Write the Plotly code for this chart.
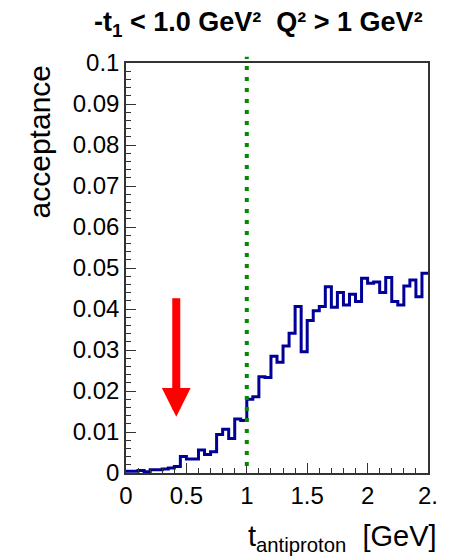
import numpy as np
import plotly.graph_objects as go

# ---- data ----
BIN_LO = 0.0
BIN_WIDTH = 0.05
acceptance = [
    0.0004, 0.0004, 0.0006, 0.0003, 0.0008, 0.0008, 0.0010, 0.0012, 0.0016, 0.0040,
    0.0034, 0.0034, 0.0056, 0.0045, 0.0052, 0.0094, 0.0107, 0.0084, 0.0132, 0.0128,
    0.0180, 0.0186, 0.0235, 0.0233, 0.0285, 0.0270, 0.0310, 0.0341, 0.0406, 0.0296,
    0.0372, 0.0396, 0.0406, 0.0454, 0.0404, 0.0440, 0.0410, 0.0436, 0.0418, 0.0475,
    0.0463, 0.0466, 0.0440, 0.0477, 0.0418, 0.0410, 0.0456, 0.0471, 0.0430, 0.0487,
]
T_CUT = 1.0
ARROW_T = 0.416
ARROW_TIP = 0.0137
ARROW_TAIL = 0.0430

X_RANGE = [0, 2.5]
Y_RANGE = [0, 0.1]
x_tickvals = [0, 0.5, 1, 1.5, 2, 2.5]
x_ticktext = ["0", "0.5", "1", "1.5", "2", "2."]
y_tickvals = [0, 0.01, 0.02, 0.03, 0.04, 0.05, 0.06, 0.07, 0.08, 0.09, 0.1]
y_ticktext = ["0", "0.01", "0.02", "0.03", "0.04", "0.05", "0.06", "0.07", "0.08", "0.09", "0.1"]

title_text = "<b>-t<sub>1</sub> &lt; 1.0 GeV²\u00a0\u00a0Q² &gt; 1 GeV²</b>"
x_title = "t<sub>antiproton</sub>\u00a0\u00a0[GeV]"
y_title = "acceptance"

# ---- build ----
n = len(acceptance)
edges = BIN_LO + BIN_WIDTH * np.arange(n + 1)
xs = list(edges[:-1]) + [edges[-1]]
ys = list(acceptance) + [acceptance[-1]]

FONT = "Liberation Sans, Arial, sans-serif"

fig = go.Figure()
fig.add_trace(go.Scatter(
    x=xs, y=ys, mode="lines", line=dict(color="#000099", width=3, shape="hv"),
    showlegend=False, hoverinfo="skip",
))

cut_paper_x = (T_CUT - X_RANGE[0]) / (X_RANGE[1] - X_RANGE[0])
fig.add_shape(type="line", xref="paper", yref="paper", x0=cut_paper_x, x1=cut_paper_x,
              y0=0.017, y1=1.015,
              line=dict(color="#008a00", width=4, dash="4px,7px"))

fig.add_annotation(x=ARROW_T, y=ARROW_TIP, ax=ARROW_T, ay=ARROW_TAIL,
                   xref="x", yref="y", axref="x", ayref="y",
                   text="", showarrow=True, arrowhead=2, arrowsize=0.72,
                   arrowwidth=8, arrowcolor="#ff0000", standoff=0)

fig.add_annotation(text=title_text, xref="paper", yref="paper",
                   x=0.44, y=1.095, xanchor="center", yanchor="middle",
                   showarrow=False, font=dict(family=FONT, size=27, color="#000000"))
fig.add_annotation(text=y_title, xref="paper", yref="paper", textangle=-90,
                   x=-0.285, y=1.0, xanchor="center", yanchor="top",
                   showarrow=False, font=dict(family=FONT, size=30, color="#000000"))
fig.add_annotation(text=x_title, xref="paper", yref="paper",
                   x=1.035, y=-0.11, xanchor="right", yanchor="top",
                   showarrow=False, font=dict(family=FONT, size=29, color="#000000"))

axis_common = dict(showgrid=False, zeroline=False, showline=True, mirror=True,
                   linecolor="#333333", linewidth=1.5, ticks="inside",
                   tickcolor="#333333", tickwidth=1,
                   tickfont=dict(family=FONT, size=24, color="#000000"))

fig.update_xaxes(range=X_RANGE, tickvals=x_tickvals, ticktext=x_ticktext,
                 ticklen=10, minor=dict(dtick=0.1, ticklen=5, ticks="inside", tickcolor="#333333"),
                 **axis_common)
fig.update_yaxes(range=Y_RANGE, tickvals=y_tickvals, ticktext=y_ticktext,
                 ticklen=10, minor=dict(dtick=0.002, ticklen=5, ticks="inside", tickcolor="#333333"),
                 **axis_common)

fig.update_layout(width=450, height=560, margin=dict(l=126, r=12, t=63, b=87),
                  plot_bgcolor="white", paper_bgcolor="white",
                  font=dict(family=FONT))

fig.write_html("out.html")
